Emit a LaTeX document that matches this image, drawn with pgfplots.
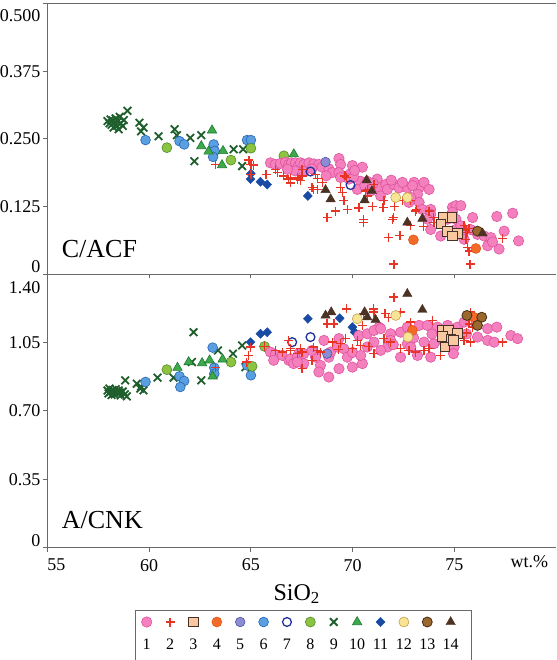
\documentclass[border=0pt]{standalone}
\usepackage{fontspec}
\setmainfont{Liberation Serif}
\usepackage{pgfplots}
\pgfplotsset{compat=1.18}

\definecolor{pinkF}{RGB}{244,128,190}
\definecolor{pinkE}{RGB}{222,84,158}
\definecolor{plusred}{RGB}{232,52,36}
\definecolor{sqF}{RGB}{250,200,160}
\definecolor{sqE}{RGB}{70,50,40}
\definecolor{orangeF}{RGB}{243,106,40}
\definecolor{orangeE}{RGB}{220,80,20}
\definecolor{purpF}{RGB}{140,140,210}
\definecolor{purpE}{RGB}{80,80,170}
\definecolor{blueF}{RGB}{90,160,225}
\definecolor{blueE}{RGB}{40,100,180}
\definecolor{openE}{RGB}{30,50,160}
\definecolor{greenF}{RGB}{140,195,65}
\definecolor{greenE}{RGB}{80,140,45}
\definecolor{xgreen}{RGB}{30,95,45}
\definecolor{triF}{RGB}{60,170,75}
\definecolor{triE}{RGB}{30,120,50}
\definecolor{diaF}{RGB}{25,75,165}
\definecolor{yelF}{RGB}{248,228,150}
\definecolor{yelE}{RGB}{200,160,70}
\definecolor{brownF}{RGB}{155,105,45}
\definecolor{brownE}{RGB}{70,45,20}
\definecolor{dtri}{RGB}{75,50,35}
\definecolor{axgray}{RGB}{105,105,105}

\newcommand\tickfont{\fontsize{18}{21}\selectfont}
\newcommand\legfont{\fontsize{16}{19}\selectfont}

% a plus sign drawn as two strokes, used for group 2
\pgfdeclareplotmark{cross+}{%
  \pgfpathmoveto{\pgfqpoint{-\pgfplotmarksize}{0pt}}%
  \pgfpathlineto{\pgfqpoint{\pgfplotmarksize}{0pt}}%
  \pgfpathmoveto{\pgfqpoint{0pt}{-\pgfplotmarksize}}%
  \pgfpathlineto{\pgfqpoint{0pt}{\pgfplotmarksize}}%
  \pgfusepathqstroke}

\pgfplotsset{
  s1/.style={only marks, color=pinkE, mark=*, mark size=5.2pt, mark options={draw=pinkE, fill=pinkF, line width=0.6pt}},
  s2/.style={only marks, color=plusred, mark=cross+, mark size=4.5pt, mark options={draw=plusred, line width=1.4pt}},
  s3/.style={only marks, color=sqE, mark=square*, mark size=4.8pt, mark options={draw=sqE, fill=sqF, line width=0.8pt}},
  s4/.style={only marks, color=orangeE, mark=*, mark size=5pt, mark options={draw=orangeE, fill=orangeF, line width=0.5pt}},
  s5/.style={only marks, color=purpE, mark=*, mark size=4.8pt, mark options={draw=purpE, fill=purpF, line width=0.6pt}},
  s6/.style={only marks, color=blueE, mark=*, mark size=4.9pt, mark options={draw=blueE, fill=blueF, line width=0.6pt}},
  s7/.style={only marks, color=openE, mark=o, mark size=4.4pt, mark options={draw=openE, line width=1.3pt}},
  s8/.style={only marks, color=greenE, mark=*, mark size=5pt, mark options={draw=greenE, fill=greenF, line width=0.6pt}},
  s9/.style={only marks, color=xgreen, mark=x, mark size=5.4pt, mark options={draw=xgreen, line width=1.8pt}},
  s10/.style={only marks, color=triE, mark=triangle*, mark size=5.4pt, mark options={draw=triE, fill=triF, line width=0.6pt}},
  s11/.style={only marks, color=diaF, mark=diamond*, mark size=4.6pt, mark options={draw=diaF, fill=diaF, xscale=1.3, line width=0.4pt}},
  s12/.style={only marks, color=yelE, mark=*, mark size=5pt, mark options={draw=yelE, fill=yelF, line width=0.6pt}},
  s13/.style={only marks, color=brownE, mark=*, mark size=5pt, mark options={draw=brownE, fill=brownF, line width=0.8pt}},
  s14/.style={only marks, color=dtri, mark=triangle*, mark size=5.4pt, mark options={draw=dtri, fill=dtri, line width=0.4pt}},
  panel/.style={
    scale only axis, width=508.5pt, xmin=55, xmax=80,
    axis lines=left, axis line style={-, draw=axgray, line width=1.1pt},
    tick style={draw=axgray, line width=1pt}, tick align=outside,
    major tick length=4pt, xtick={55,60,65,70,75},
    ticklabel style={font=\tickfont}, yticklabel style={inner sep=3pt},
    clip=false},
}

\begin{document}
\begin{tikzpicture}

% ---------------- A/CNK versus SiO2 ----------------
\begin{axis}[panel, height=273pt, at={(0pt,0pt)}, anchor=south west,
  ymin=0, ymax=1.40,
  ytick={0,0.35,0.70,1.05,1.40},
  yticklabels={\smash{\raisebox{1pt}{0}},0.35,0.70,1.05,\smash{\raisebox{-19.3pt}{1.40}}},
  xticklabels={\makebox[0pt][l]{55},60,65,70,75},
  xticklabel style={yshift=-4pt},
  extra x ticks={80}, extra x tick labels={\makebox[0pt][r]{wt.\%\hspace{8pt}}},
  extra x tick style={major tick length=0pt},
  xlabel={SiO\textsubscript{2}},
  xlabel style={font=\fontsize{24}{28}\selectfont, at={(axis description cs:0.49,0)}, anchor=base, yshift=-52.5pt},
]
\addplot[s9] coordinates {(57.95,0.805)(58.0,0.790)(58.05,0.815)(58.1,0.798)(58.15,0.782)(58.2,0.808)(58.25,0.795)(58.3,0.785)(58.35,0.812)(58.4,0.800)(58.45,0.790)(58.5,0.805)(58.55,0.795)(58.6,0.780)(58.7,0.800)(58.8,0.785)(58.9,0.775)(58.82,0.857)(59.39,0.840)(59.56,0.815)(59.72,0.806)(59.6,0.825)(60.41,0.871)(61.20,0.871)(62.18,1.104)(62.56,0.857)(63.38,1.011)(64.12,0.994)(64.57,1.036)(64.73,0.925)(62.1,0.951)};
\addplot[s6] coordinates {(59.82,0.849)(61.49,0.878)(61.72,0.854)(61.53,0.823)(63.12,1.025)(63.2,0.922)(63.2,0.891)(64.81,0.934)(65.0,0.883)};
\addplot[s8] coordinates {(60.87,0.912)(64.02,0.951)(65.67,1.031)(65.06,0.929)};
\addplot[s10] coordinates {(61.39,0.922)(61.94,0.951)(62.6,0.946)(62.97,0.960)(63.61,0.965)(63.12,0.878)};
\addplot[s11] coordinates {(64.98,1.053)(65.47,1.096)(65.80,1.104)(67.80,1.173)(69.37,1.176)(69.99,1.130)(70.10,1.104)};
\addplot[s1] coordinates {(65.96,1.002)(66.20,0.990)(66.54,0.985)(66.86,0.960)(67.19,0.951)(67.35,0.994)(66.95,0.968)(66.12,0.960)(67.10,0.943)(67.28,0.976)(67.60,0.994)(67.60,0.943)(68.42,0.934)(68.18,0.976)(68.83,0.976)(68.92,1.002)(68.59,1.062)(69.25,1.028)(69.57,1.019)(69.33,1.071)(69.74,0.976)(68.34,0.900)(68.83,0.874)(69.33,0.917)(69.99,0.925)(70.48,0.943)(70.31,1.087)(70.72,1.096)(71.30,1.130)(71.05,1.113)(71.38,1.122)(71.87,1.096)(72.36,1.104)(72.69,1.130)(73.27,1.139)(73.68,1.139)(74.17,1.130)(74.67,1.139)(75.16,1.130)(75.48,1.156)(76.06,1.147)(76.64,1.122)(77.09,1.130)(77.78,1.087)(78.11,1.071)(71.05,1.053)(71.71,1.028)(71.87,1.062)(72.69,1.045)(72.86,1.028)(73.51,1.053)(74.00,1.045)(74.50,1.053)(74.99,1.028)(76.14,1.079)(76.64,1.062)(76.96,1.053)(70.72,1.028)(71.38,1.011)(72.36,0.976)(73.19,0.985)(73.84,0.976)(74.96,0.994)(67.28,0.951)(68.0,1.010)(70.0,1.000)(70.4,0.985)(72.0,1.040)(73.0,1.075)(73.9,1.095)(75.6,1.095)};
\addplot[s5] coordinates {(68.75,0.994)};
\addplot[s7] coordinates {(67.93,1.079)(67.03,1.053)};
\addplot[s2] coordinates {(63.25,0.922)(64.98,1.028)(64.89,0.985)(64.78,0.951)(65.67,1.031)(66.21,1.011)(66.54,1.002)(66.86,1.062)(66.95,1.019)(67.28,0.994)(72.03,1.284)(69.70,1.224)(71.02,1.224)(71.05,1.207)(71.60,1.199)(71.75,1.181)(72.36,1.207)(70.53,1.199)(68.75,1.147)(69.08,1.147)(70.48,1.139)(72.86,1.156)(73.93,1.164)(75.81,1.207)(75.73,1.147)(66.95,1.011)(67.44,1.019)(67.52,1.002)(68.09,1.028)(68.26,1.011)(68.42,1.002)(68.01,0.960)(67.52,0.917)(69.00,1.053)(69.41,1.045)(69.65,1.071)(70.23,1.062)(70.39,1.036)(71.05,0.994)(71.54,1.071)(71.87,1.053)(72.36,1.019)(72.77,1.011)(73.10,1.002)(73.51,1.011)(73.76,1.019)(74.33,0.985)(75.48,1.062)(75.81,1.053)(77.37,1.053)(69.30,1.015)(70.00,1.020)(70.80,1.030)(75.60,1.100)(75.90,1.130)};
\addplot[s3] coordinates {(74.42,1.113)(74.70,1.113)(75.16,1.099)(74.42,1.082)(74.83,1.066)(74.53,1.028)(74.96,1.061)};
\addplot[s4] coordinates {(75.95,1.181)(72.94,1.113)};
\addplot[s12] coordinates {(70.23,1.173)(72.12,1.190)(72.72,1.079)};
\addplot[s13] coordinates {(75.62,1.190)(76.35,1.181)(76.14,1.139)};
\addplot[s14] coordinates {(72.69,1.301)(73.43,1.219)(68.67,1.190)(68.95,1.207)(70.59,1.207)(70.72,1.181)(71.13,1.168)};
\node[anchor=base west, inner sep=0pt, font=\fontsize{26}{30}\selectfont, xshift=14.2pt, yshift=19.2pt] at (rel axis cs:0,0) {A/CNK};
\end{axis}

% ---------------- C/ACF versus SiO2 ----------------
\begin{axis}[panel, height=271pt, at={(0pt,273pt)}, anchor=south west,
  ymin=0, ymax=0.5,
  ytick={0,0.125,0.25,0.375,0.5},
  yticklabels={\smash{\raisebox{2.2pt}{0}},0.125,0.250,0.375,\smash{\raisebox{-17.6pt}{0.500}}},
  xticklabels={},
]
\addplot[s9] coordinates {(57.95,0.283)(58.05,0.279)(58.1,0.286)(58.15,0.276)(58.2,0.284)(58.25,0.271)(58.3,0.280)(58.35,0.288)(58.4,0.275)(58.45,0.282)(58.5,0.268)(58.55,0.291)(58.6,0.279)(58.7,0.274)(58.75,0.285)(58.93,0.302)(59.52,0.280)(59.6,0.264)(59.72,0.271)(60.46,0.255)(61.25,0.268)(61.36,0.257)(62.02,0.252)(62.56,0.257)(62.22,0.209)(64.15,0.231)(64.62,0.231)(64.57,0.200)};
\addplot[s6] coordinates {(59.82,0.248)(61.49,0.246)(61.72,0.240)(63.17,0.240)(63.22,0.228)(63.14,0.217)(64.81,0.248)(65.0,0.248)};
\addplot[s8] coordinates {(60.87,0.234)(64.02,0.211)(65.0,0.233)(66.62,0.219)};
\addplot[s10] coordinates {(63.09,0.266)(62.56,0.237)(62.92,0.227)(63.63,0.228)(63.58,0.202)(67.11,0.222)};
\addplot[s11] coordinates {(64.98,0.176)(65.47,0.171)(65.80,0.166)(65.0,0.186)(67.80,0.145)};
\addplot[s1] coordinates {(65.96,0.206)(66.20,0.203)(66.45,0.205)(66.70,0.207)(66.86,0.203)(67.00,0.206)(67.19,0.206)(67.32,0.200)(67.44,0.206)(67.60,0.203)(67.85,0.206)(68.10,0.204)(68.34,0.203)(67.19,0.191)(66.80,0.194)(67.60,0.190)(68.00,0.195)(68.50,0.198)(68.83,0.195)(69.00,0.188)(69.33,0.214)(69.41,0.203)(69.33,0.188)(69.41,0.179)(69.90,0.186)(69.82,0.176)(69.99,0.201)(70.48,0.198)(70.39,0.172)(70.72,0.172)(70.23,0.157)(71.21,0.176)(71.30,0.160)(71.38,0.145)(70.89,0.154)(71.63,0.166)(71.71,0.157)(72.03,0.166)(72.28,0.160)(72.69,0.160)(73.02,0.170)(73.27,0.160)(73.51,0.170)(73.76,0.157)(73.19,0.148)(73.27,0.133)(72.77,0.133)(72.86,0.142)(73.43,0.120)(73.84,0.120)(73.84,0.111)(73.68,0.102)(74.67,0.102)(74.91,0.124)(75.08,0.127)(75.32,0.127)(74.91,0.115)(75.08,0.102)(75.90,0.105)(74.33,0.071)(73.84,0.083)(75.08,0.083)(75.48,0.083)(75.80,0.083)(75.32,0.090)(76.14,0.074)(76.47,0.071)(76.80,0.068)(76.64,0.053)(77.20,0.047)(77.09,0.107)(77.87,0.113)(77.45,0.080)(78.16,0.062)(75.48,0.065)(76.88,0.060)(70.05,0.180)(70.60,0.164)(71.00,0.168)(71.90,0.174)(72.45,0.170)(72.95,0.164)(70.10,0.192)(68.70,0.182)};
\addplot[s5] coordinates {(68.67,0.2075)};
\addplot[s7] coordinates {(67.93,0.190)(69.90,0.165)};
\addplot[s2] coordinates {(63.25,0.203)(64.90,0.211)(65.00,0.203)(65.14,0.202)(65.00,0.185)(65.75,0.185)(66.20,0.194)(66.32,0.188)(66.59,0.182)(66.86,0.176)(67.28,0.176)(66.95,0.169)(67.28,0.179)(67.44,0.173)(67.52,0.194)(66.95,0.178)(67.52,0.182)(68.18,0.185)(68.26,0.177)(68.01,0.160)(68.26,0.157)(68.09,0.157)(68.51,0.170)(68.75,0.105)(69.16,0.117)(69.41,0.160)(69.49,0.151)(69.57,0.136)(69.74,0.120)(69.70,0.179)(69.62,0.182)(70.31,0.123)(70.53,0.102)(70.53,0.096)(70.64,0.154)(70.72,0.145)(70.72,0.157)(70.97,0.126)(71.05,0.166)(71.54,0.136)(71.50,0.124)(71.75,0.068)(71.96,0.102)(72.00,0.105)(72.07,0.126)(72.33,0.072)(72.03,0.019)(72.45,0.136)(72.86,0.136)(72.86,0.090)(73.10,0.117)(73.15,0.120)(73.48,0.088)(73.76,0.117)(73.97,0.105)(74.00,0.096)(75.48,0.090)(75.65,0.077)(75.57,0.082)(75.73,0.085)(75.65,0.050)(75.73,0.043)(75.78,0.019)(77.37,0.066)(75.57,0.065)};
\addplot[s3] coordinates {(74.47,0.105)(74.88,0.105)(74.34,0.093)(74.67,0.080)(75.16,0.076)(74.91,0.071)};
\addplot[s4] coordinates {(72.99,0.064)(76.06,0.048)};
\addplot[s12] coordinates {(72.12,0.142)(72.69,0.142)};
\addplot[s13] coordinates {(76.14,0.080)};
\addplot[s14] coordinates {(68.67,0.156)(68.92,0.139)(70.59,0.137)(70.69,0.174)(70.95,0.154)(72.69,0.096)(73.43,0.103)(76.39,0.076)};
\draw[axgray, line width=1.1pt] (rel axis cs:0,1) -- (rel axis cs:1,1);
\node[anchor=base west, inner sep=0pt, font=\fontsize{26}{30}\selectfont, xshift=14.2pt, yshift=17.2pt] at (rel axis cs:0,0) {C/ACF};
\end{axis}

% ---------------- key: sample groups 1-14 ----------------
\begin{axis}[scale only axis, width=336pt, height=60pt,
  at={(87.5pt,-62.5pt)}, anchor=north west,
  xmin=0.5, xmax=14.87, ymin=0, ymax=60,
  axis line style={draw=axgray, line width=1pt}, ticks=none, clip=false,
  every axis plot/.append style={/tikz/every mark/.append style={scale=0.82}},
  every node near coord/.append style={text=black, font=\legfont, anchor=center, yshift=-22pt},
]
\addplot[s1, nodes near coords={1}] coordinates {(1,48)};
\addplot[s2, nodes near coords={2}] coordinates {(2,48)};
\addplot[s3, nodes near coords={3}] coordinates {(3,48)};
\addplot[s4, nodes near coords={4}] coordinates {(4,48)};
\addplot[s5, nodes near coords={5}] coordinates {(5,48)};
\addplot[s6, nodes near coords={6}] coordinates {(6,48)};
\addplot[s7, nodes near coords={7}] coordinates {(7,48)};
\addplot[s8, nodes near coords={8}] coordinates {(8,48)};
\addplot[s9, nodes near coords={9}] coordinates {(9,48)};
\addplot[s10, nodes near coords={10}] coordinates {(10,48)};
\addplot[s11, nodes near coords={11}] coordinates {(11,48)};
\addplot[s12, nodes near coords={12}] coordinates {(12,48)};
\addplot[s13, nodes near coords={13}] coordinates {(13,48)};
\addplot[s14, nodes near coords={14}] coordinates {(14,48)};
\end{axis}

\pgfresetboundingbox
\path[use as bounding box] (-47.5pt,-112.5pt) rectangle (508.5pt,547.5pt);
\end{tikzpicture}
\end{document}
